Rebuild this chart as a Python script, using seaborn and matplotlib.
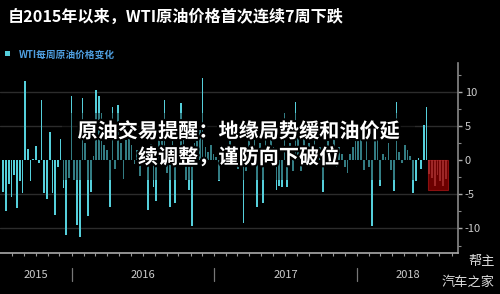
import numpy as np
import pandas as pd
import matplotlib
matplotlib.use("Agg")
import matplotlib.pyplot as plt
import matplotlib.patheffects as pe
import matplotlib.transforms as mtransforms
from matplotlib.patches import Rectangle
import seaborn as sns

# ---------------- data ----------------
title = "自2015年以来，WTI原油价格首次连续7周下跌"
legend_label = "WTI每周原油价格变化"
overlay_lines = ["原油交易提醒：地缘局势缓和油价延", "续调整，谨防向下破位"]
watermark_lines = ["帮主", "汽车之家"]
start_date = "2015-07-10"
year_labels = ["2015", "2016", "2017", "2018"]
y_ticks = [-10, -5, 0, 5, 10]
weekly_change = [
    -4.6, -7.4, -3.4, -5.4, -2.1, -7.0, -3.1, -4.8, 11.6, 1.6,
    -3.1, 0.2, 2.1, -0.4, 8.8, -4.8, -5.7, 4.2, -4.8, -8.0,
    -0.9, 3.1, -4.1, -11.0, -2.6, 9.5, -2.9, -9.5, -11.3, 9.2,
    2.5, -8.2, -4.6, 0.6, 10.4, 9.4, 7.0, 2.3, 1.5, -6.8,
    7.8, -1.2, 8.2, 2.5, -2.8, 3.0, 3.5, 2.2, -0.6, 1.5,
    -2.3, 1.0, 1.8, -7.3, 2.4, -3.9, -6.0, 3.6, 2.8, 8.9,
    -1.9, -6.8, 4.5, -6.3, 2.0, 8.4, 3.0, -2.9, -4.4, -9.6,
    2.5, 3.2, 4.5, 12.1, 2.0, 1.2, 2.3, 1.0, 0.5, -3.1,
    1.2, 2.0, -0.8, 3.0, 2.2, 1.0, -1.2, 2.0, -9.2, -1.6,
    3.5, 2.0, 4.0, -6.8, 2.5, -6.3, 3.0, 1.5, 4.5, 2.0,
    -4.3, -3.8, -3.9, 7.0, -3.9, 2.5, -1.6, 8.5, 3.5, -1.6,
    4.0, 1.5, 2.5, -0.8, 3.0, 1.5, 2.0, -4.7, 1.2, 2.8,
    0.8, 3.5, -1.0, 2.0, 1.0, -0.9, -1.8, 1.0, 1.9, 3.0,
    3.3, 5.0, -1.4, 3.0, -0.9, -9.6, 3.0, 4.0, -3.8, 1.0,
    0.5, 2.5, -1.4, -4.5, 8.5, 1.3, -0.4, 2.3, 1.5, 0.6,
    -4.8, -3.1, 0.3, -1.2, 5.2, 7.9,
    -2.0, -2.6, -3.8, -2.2, -3.0, -3.7, -2.8,
]
n_red = 7

# ---------------- style ----------------
sns.set_style("dark", {"axes.facecolor": "black", "figure.facecolor": "black"})
plt.rcParams["font.family"] = ["Noto Sans CJK SC", "DejaVu Sans"]

n = len(weekly_change)
dates = pd.date_range(start_date, periods=n, freq="7D")
df = pd.DataFrame({
    "week": np.arange(n),
    "chg": weekly_change,
    "grp": ["base"] * (n - n_red) + ["red"] * n_red,
})


def pos(d):
    return (pd.Timestamp(d) - dates[0]).days / 7.0


BAR = "#55cfdb"
fig = plt.figure(figsize=(5, 2.94), dpi=100, facecolor="black")
ax = fig.add_axes([0, 41 / 294, 458 / 500, 190 / 294])
ax.set_facecolor("black")

sns.barplot(data=df, x="week", y="chg", hue="grp",
            palette={"base": BAR, "red": "#e0b4b4"},
            width=0.62, dodge=False, legend=False, saturation=1,
            native_scale=True, ax=ax, zorder=3,
            linewidth=0, edgecolor="none")

xmin, xmax = -1.2, 166.5
ax.set_xlim(xmin, xmax)
ax.set_ylim(-13.6, 14.3)

# highlight box for the 7-week decline
ax.add_patch(Rectangle((n - n_red - 0.6, 0), n_red + 0.5, -4.3,
                       facecolor="#8b0000", edgecolor="#a31515",
                       alpha=0.78, lw=0.8, zorder=4))

# grid lines
for v in y_ticks:
    if v != 0:
        ax.axhline(v, color="#2c2c2c", lw=1.0, zorder=1)
ax.grid(False)

# y axis on right
ax.yaxis.tick_right()
ax.set_yticks(y_ticks)
ax.set_yticklabels([str(v) for v in y_ticks])
ax.set_yticks(np.arange(-12.5, 14, 2.5), minor=True)
ax.tick_params(axis="y", which="major", length=3, width=1, color="#aaaaaa",
               labelcolor="#cccccc", labelsize=8, pad=2, right=True, left=False)
ax.tick_params(axis="y", which="minor", length=2, width=0.8, color="#888888",
               right=True, left=False)
ax.set_ylabel("")
ax.set_xlabel("")

# x axis: monthly minor ticks
months = pd.date_range("2015-08-01", "2018-09-01", freq="MS")
ax.set_xticks([])
ax.set_xticks([pos(m) for m in months], minor=True)
ax.tick_params(axis="x", which="minor", length=2.5, width=0.8, color="#999999",
               bottom=True, labelbottom=False)

for s in ["top", "left"]:
    ax.spines[s].set_visible(False)
ax.spines["right"].set_color("#888888")
ax.spines["right"].set_linewidth(1.2)
ax.spines["bottom"].set_color("#aaaaaa")
ax.spines["bottom"].set_linewidth(1.2)

# year separators and labels
trans = mtransforms.blended_transform_factory(ax.transData, ax.transAxes)
bounds = [xmin] + [pos(f"{y}-01-01") for y in (2016, 2017, 2018)] + [xmax]
for b in bounds[1:-1]:
    ax.plot([b, b], [-0.079, -0.147], transform=trans, color="#777777",
            lw=0.9, clip_on=False)
for i, lab in enumerate(year_labels):
    ax.text((bounds[i] + bounds[i + 1]) / 2, -0.116, lab, transform=trans,
            ha="center", va="center", color="#cccccc", fontsize=8)

# title and legend
fig.text(8 / 500, 1 - 17 / 294, title, color="white", fontsize=11.6,
         fontweight="bold", ha="left", va="center")
fig.patches.append(Rectangle((5 / 500, 1 - 56 / 294), 5 / 500, 5 / 294,
                             transform=fig.transFigure, facecolor=BAR,
                             edgecolor="none", lw=0))
fig.text(19 / 500, 1 - 55 / 294, legend_label, color="#4f9fe0", fontsize=7,
         fontweight="bold", ha="left", va="center")

# dark band behind overlay text
fig.patches.append(Rectangle((62 / 500, 1 - 180 / 294), (415 - 62) / 500,
                             67 / 294, transform=fig.transFigure,
                             facecolor="black", edgecolor="none", lw=0,
                             alpha=0.4, zorder=2))
for k, line in enumerate(overlay_lines):
    fig.text(0.477, 1 - (131 + 26 * k) / 294, line, color="white",
             fontsize=14.5, fontweight="bold", ha="center", va="center",
             zorder=5,
             path_effects=[pe.withStroke(linewidth=3, foreground="black")])

# watermark
for k, line in enumerate(watermark_lines):
    fig.text(495 / 500, 1 - (262 + 20 * k) / 294, line, color="#dddddd",
             fontsize=9.5, ha="right", va="center", zorder=5)

fig.savefig("out.png", dpi=100, facecolor="black")
